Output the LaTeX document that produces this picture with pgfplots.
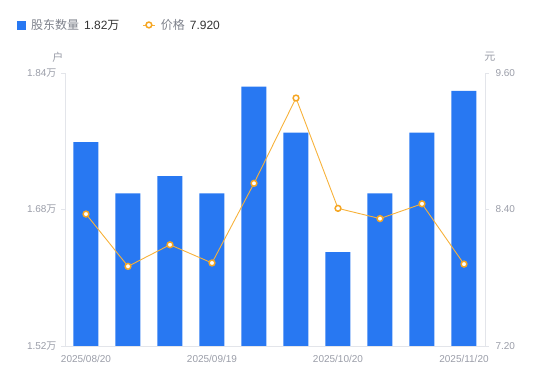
\documentclass[border=0pt]{standalone}
\usepackage{pgfplots}
\pgfplotsset{compat=1.18}
\usepackage{fontspec}
\setmainfont{Liberation Sans}
\newfontfamily\cjk{Noto Sans CJK SC}
\definecolor{barblue}{HTML}{2878F2}
\definecolor{lineorange}{HTML}{F7B23B}
\definecolor{markorange}{HTML}{F5A623}
\definecolor{ticktext}{HTML}{9A9DA8}
\definecolor{axisgray}{HTML}{E3E5EA}
\definecolor{legtext}{HTML}{7E828C}
\definecolor{valtext}{HTML}{333333}

\pgfplotstableread{
x shareholders price
0 1.759 8.36
1 1.699 7.90
2 1.719 8.09
3 1.699 7.93
4 1.824 8.63
5 1.770 9.38
6 1.630 8.41
7 1.699 8.32
8 1.770 8.45
9 1.819 7.92
}\datatable

\pgfplotsset{
  common/.style={
    at={(65pt,35pt)}, anchor=south west, scale only axis,
    width=420pt, height=273pt,
    xmin=-0.5, xmax=9.5,
    clip=false,
    tick align=outside,
    major tick length=4pt,
    every tick/.style={draw=axisgray, line width=0.8pt},
    tick label style={font=\fontsize{10}{12}\selectfont, text=ticktext},
    axis line style={draw=axisgray, line width=0.8pt, -},
  },
  barlegend/.style={legend image code/.code={\fill[barblue] (0pt,-4pt) rectangle (8pt,4pt);}},
  linelegend/.style={legend image code/.code={\draw[mark repeat=2,mark phase=2,##1] plot coordinates {(0pt,0pt) (6pt,0pt) (12pt,0pt)};}},
}

\begin{document}
\begin{tikzpicture}
\path[use as bounding box] (0,0) rectangle (550pt,381pt);
\begin{axis}[
  common,
  ymin=1.52, ymax=1.84,
  axis y line*=left, axis x line*=bottom,
  xtick={0,3,6,9},
  xticklabels={2025/08/20,2025/09/19,2025/10/20,2025/11/20},
  xtick style={draw=none},
  xticklabel style={yshift=-1.5pt},
  ytick={1.52,1.68,1.84},
  yticklabels={1.52{\cjk 万},1.68{\cjk 万},1.84{\cjk 万}},
  yticklabel style={xshift=-1pt},
  ylabel={\cjk 户},
  ylabel style={rotate=-90, at={(axis description cs:0,1)}, anchor=center, xshift=-7pt, yshift=16pt, font=\fontsize{11}{12}\selectfont, text=ticktext},
]
\addplot[ybar, bar width=25pt, fill=barblue, draw=none] table[x=x, y=shareholders] {\datatable};
\end{axis}
\begin{axis}[
  common,
  ymin=7.2, ymax=9.6,
  axis y line*=right, axis x line=none,
  ytick={7.2,8.4,9.6},
  yticklabels={7.20,8.40,9.60},
  yticklabel style={anchor=west, xshift=3pt},
  ylabel={\cjk 元},
  ylabel style={rotate=-90, at={(axis description cs:1,1)}, anchor=center, xshift=5pt, yshift=16pt, font=\fontsize{11}{12}\selectfont, text=ticktext},
  legend style={at={(axis description cs:-0.1214,1.176)}, anchor=west, draw=none, fill=none,
    font=\fontsize{12}{14}\selectfont, legend columns=2,
    /tikz/every even column/.append style={column sep=21pt},
    legend cell align=left},
]
\addlegendimage{barlegend}
\addlegendentry{\hspace{3.5pt}{\cjk\color{legtext}股东数量}\hspace{5pt}\textcolor{valtext}{1.82{\cjk 万}}}
\addplot[color=lineorange, line width=0.9pt,
  mark=*, mark size=2.9pt,
  mark options={draw=markorange, fill=white, line width=1.5pt},
  linelegend
] table[x=x, y=price] {\datatable};
\addlegendentry{\hspace{3.5pt}{\cjk\color{legtext}价格}\hspace{5pt}\textcolor{valtext}{7.920}}
\end{axis}
\end{tikzpicture}
\end{document}
